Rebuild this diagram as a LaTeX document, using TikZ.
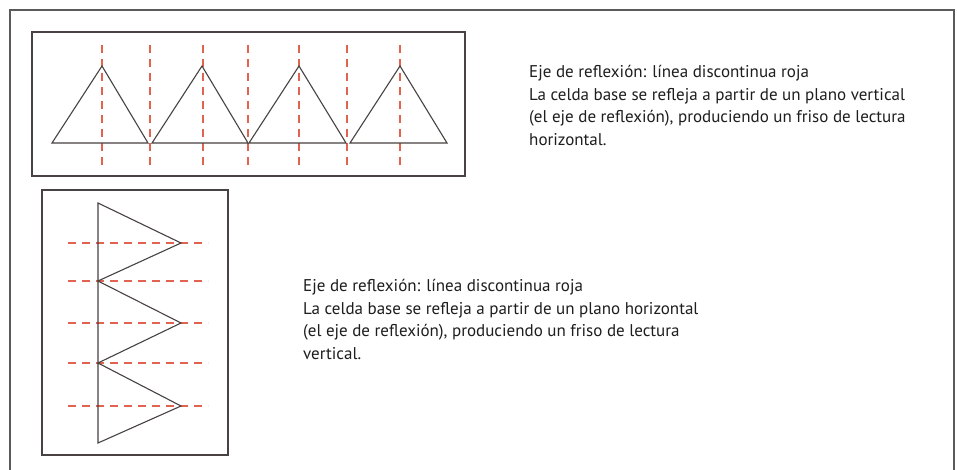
\documentclass[tikz,border=0pt]{standalone}
\usepackage{fontspec}
\setmainfont{PT Sans}
\definecolor{axisred}{RGB}{226,100,80}
\definecolor{linegray}{RGB}{72,66,66}
\definecolor{framegray}{RGB}{90,90,90}
\definecolor{textgray}{RGB}{30,30,30}
\begin{document}
\begin{tikzpicture}[x=1pt,y=-1pt,
  frameline/.style={draw=framegray,line width=1.1pt},
  boxline/.style={draw=linegray,line width=1.6pt},
  triline/.style={draw=linegray,line width=1.1pt,line join=miter},
  axisline/.style={draw=axisred,line width=1.1pt,dash pattern=on 8pt off 6pt},
  caption/.style={anchor=north west,inner sep=0pt,align=left,text=textgray,
    font=\fontsize{17}{22.7}\selectfont}]
\fill[white] (0,0) rectangle (957,470);
\useasboundingbox (0,0) rectangle (957,470);
% outer frame
\draw[frameline] (10,471) -- (10,10) -- (954,10) -- (954,471);
% top box
\draw[boxline] (32,32) rectangle (465,176);
\foreach \xa in {102,150,203,248,299,347,400}
  \draw[axisline] (\xa,45) -- (\xa,170);
\draw[triline] (52,143) -- (102,66) -- (148,143) -- cycle;
\draw[triline] (152,143) -- (202,66) -- (248,143) -- cycle;
\draw[triline] (249,143) -- (299,66) -- (346,143) -- cycle;
\draw[triline] (350,143) -- (400,66) -- (447,143) -- cycle;
% bottom box
\draw[boxline] (42,190) rectangle (228,455);
\foreach \ya in {243,281,323,363,406}
  \draw[axisline] (68,\ya) -- (208,\ya);
\draw[triline] (98,203) -- (181,243) -- (98,281) -- (181,323) -- (98,363) -- (181,406) -- (98,443) -- cycle;
% captions
\node[caption] (capone) at (529,65) {Eje de reflexión: línea discontinua roja\\
La celda base se refleja a partir de un plano vertical\\
(el eje de reflexión), produciendo un friso de lectura\\
horizontal.};
\node[caption] (captwo) at (303,279) {Eje de reflexión: línea discontinua roja\\
La celda base se refleja a partir de un plano horizontal\\
(el eje de reflexión), produciendo un friso de lectura\\
vertical.};
\end{tikzpicture}
\end{document}
